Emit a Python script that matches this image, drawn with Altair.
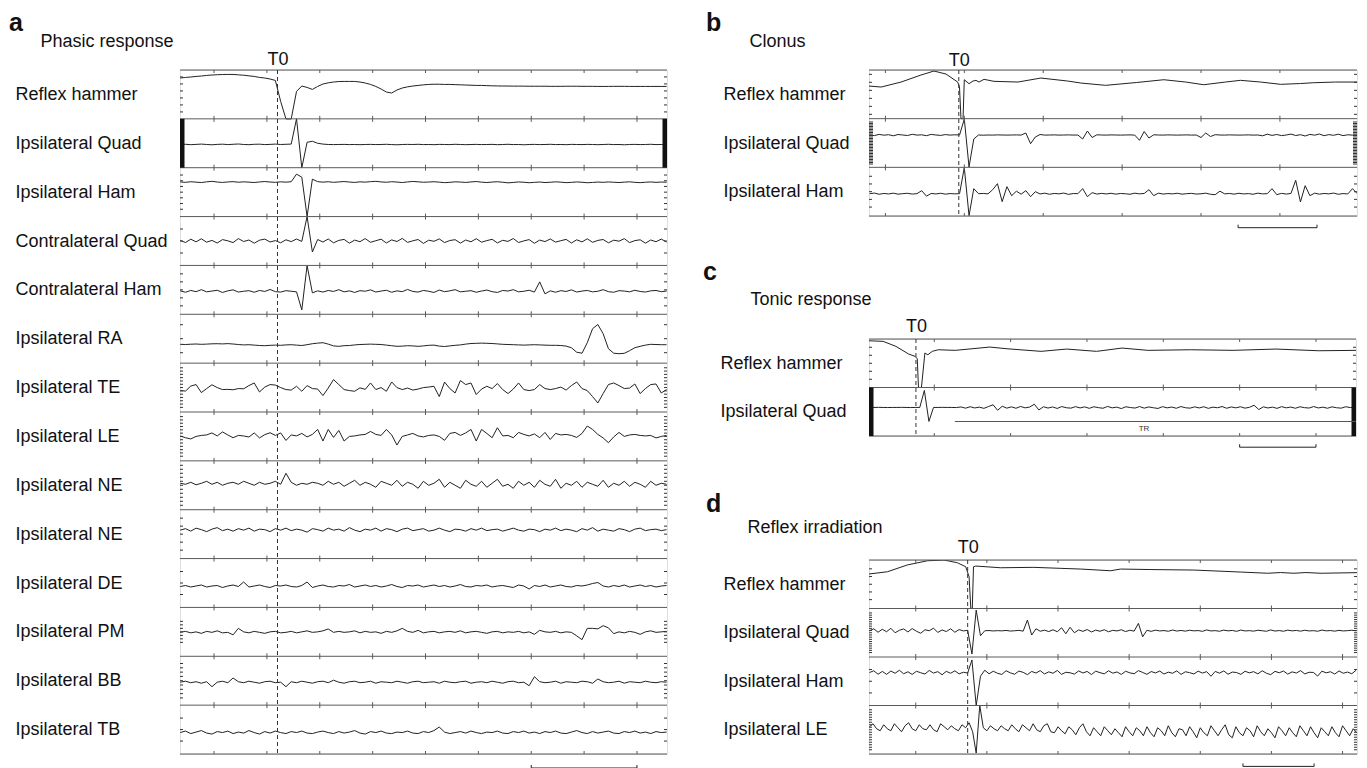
import json
import altair as alt
import pandas as pd

FONT = "Liberation Sans"
INK = "#222222"
FRAME = "#5a5a5a"

# ---------------- Panel a : phasic response ----------------
A_LABELS = ["Reflex hammer", "Ipsilateral Quad", "Ipsilateral Ham", "Contralateral Quad",
            "Contralateral Ham", "Ipsilateral RA", "Ipsilateral TE", "Ipsilateral LE",
            "Ipsilateral NE", "Ipsilateral NE", "Ipsilateral DE", "Ipsilateral PM",
            "Ipsilateral BB", "Ipsilateral TB"]
A_T_START, A_T_STEP = -32, 5          # ms, sample spacing of the traces
A_T0 = 60
A_XTICKS = [0, 50, 100, 150, 200, 250, 300, 350, 400]
A_SCALEBAR = [300, 400]
A_XDOM = [-32.2, 428.4]

A_HAMMER = [16.4, 17.0, 17.4, 18.0, 18.4, 19.0, 19.4, 19.7, 19.9, 20.0,
            20.0, 19.6, 19.2, 18.6, 18.0, 17.0, 16.4, 15.4, 14.0, -7.0,
            -24.5, -24.5, 3.0, 8.4, 7.0, 5.0, 8.0, 10.4, 11.6, 12.4,
            12.9, 13.0, 13.0, 13.0, 12.4, 11.4, 10.0, 8.0, 5.4, 2.4,
            1.4, 4.4, 6.4, 7.6, 8.4, 9.0, 9.6, 10.0, 10.2, 10.2,
            10.0, 10.0, 9.8, 9.6, 9.4, 9.2, 9.0, 9.0, 8.8, 8.6,
            8.5, 8.4, 8.4, 8.3, 8.3, 8.3, 8.2, 8.2, 8.2, 8.2,
            8.1, 8.1, 8.1, 8.2, 8.2, 8.2, 8.1, 8.1, 8.1, 8.0,
            8.0, 8.0, 8.1, 8.1, 8.1, 8.0, 8.0, 8.0, 8.0, 8.0,
            8.0, 8.0, 8.0]
A_IPSI_QUAD = [-1.2, -1.0, -1.4, -1.1, -0.8, -1.2, -1.5, -1.1, -0.9, -1.3,
               -1.0, -0.7, -1.2, -1.4, -1.0, -0.9, -1.3, -1.1, -0.8, -1.2,
               -1.0, -0.8, 24.5, -24.5, 1.0, 2.0, 0.0, -0.8, -1.2, -1.3,
               -1.2, -1.1, -1.3, -1.2, -1.4, -1.2, -1.1, -1.3, -1.2, -1.0,
               -1.3, -1.5, -1.2, -1.1, -1.2, -1.0, -1.3, -1.2, -1.4, -1.1,
               -1.2, -1.3, -1.0, -1.2, -1.4, -1.2, -1.1, -1.3, -1.2, -1.1,
               -1.4, -1.2, -1.0, -1.3, -1.2, -1.5, -1.2, -1.1, -1.3, -1.2,
               -1.0, -1.3, -1.2, -1.4, -1.1, -1.2, -1.3, -1.1, -1.2, -1.4,
               -1.2, -1.0, -1.3, -1.2, -1.5, -1.2, -1.1, -1.3, -1.2, -1.0,
               -1.3, -1.2, -1.2]
A_IPSI_HAM = [10.2, 9.8, 10.4, 10.0, 9.6, 10.3, 10.8, 10.1, 9.7, 10.2,
              10.5, 9.9, 10.3, 10.0, 9.6, 10.2, 10.6, 10.1, 9.8, 10.3,
              10.0, 10.4, 18.0, 15.0, -24.4, 13.0, 10.5, 10.0, 10.4, 9.8,
              10.2, 10.6, 10.1, 9.7, 10.3, 10.0, 10.5, 10.8, 10.2, 9.9,
              10.4, 10.1, 9.6, 10.2, 10.7, 10.3, 9.9, 10.1, 10.4, 10.0,
              9.5, 9.8, 10.3, 10.1, 9.7, 10.2, 10.6, 10.0, 9.6, 10.1,
              10.4, 9.9, 9.3, 9.7, 10.2, 9.9, 9.4, 9.8, 10.1, 9.6,
              9.9, 10.3, 10.0, 9.5, 9.8, 10.2, 9.9, 9.4, 9.7, 10.1,
              9.8, 10.2, 9.9, 9.6, 10.0, 10.3, 9.8, 9.5, 9.9, 10.2,
              9.8, 10.1, 9.9]
A_CONTRA_QUAD = [0.5, -1.5, 1.8, -0.8, 2.2, -1.2, 0.6, -2.0, 1.4, 0.2,
                 -1.6, 2.4, -0.5, 1.0, -2.2, 0.8, 1.9, -1.0, 0.4, -1.8,
                 1.2, -0.6, 2.0, -0.4, 24.4, -11.0, 1.5, -1.0, 2.0, -1.8,
                 0.6, 1.6, -2.2, 0.9, -0.7, 2.4, -1.3, 0.3, 1.8, -2.0,
                 1.1, -0.5, 2.6, -1.4, 0.2, 1.5, -2.4, 0.8, -0.3, 2.1,
                 -1.6, 0.5, 1.3, -2.1, 1.0, -0.8, 2.3, -1.2, 0.4, 1.7,
                 -1.9, 0.7, -0.4, 2.5, -1.5, 0.1, 1.4, -2.3, 0.9, -0.6,
                 2.0, -1.1, 0.3, 1.6, -2.0, 1.2, -0.9, 2.2, -1.3, 0.6,
                 1.5, -1.8, 0.8, -0.2, 2.4, -1.6, 0.4, 1.2, -2.2, 1.0,
                 -0.7, 1.9, -1.0]
A_CONTRA_HAM = [-1.0, -2.4, -0.6, -1.8, 0.2, -2.0, -1.2, -0.4, -2.6, -1.0,
                0.0, -2.2, -1.4, -0.8, -2.4, -0.6, -1.6, 0.4, -1.8, -2.2,
                -0.8, -1.4, -2.0, -20.0, 24.4, -3.0, -1.0, -2.2, -0.6, -1.6,
                0.2, -2.0, -1.0, -2.6, -0.8, -1.4, 0.0, -2.2, -1.2, -0.4,
                -2.4, -1.0, -1.8, 0.4, -1.6, -2.2, -0.6, -1.4, -2.6, -0.2,
                -1.8, -1.0, 0.2, -2.0, -1.4, -0.8, -2.4, -1.2, -0.2, -1.8,
                -2.6, -0.6, -1.2, 0.2, -2.0, -1.4, -0.4, -2.2, 8.0, -4.0,
                -1.0, -2.4, -0.8, -1.6, 0.0, -2.2, -1.2, -0.6, -2.0, -1.4,
                0.2, -1.8, -2.4, -0.8, -1.2, -2.0, -0.4, -1.6, -2.2, -1.0,
                -0.6, -1.8, -1.2]
A_RA = [-5.6, -5.8, -5.5, -5.3, -5.6, -5.4, -5.1, -5.0, -5.2, -4.9,
        -5.3, -5.8, -6.2, -6.0, -6.4, -6.8, -7.0, -6.6, -6.4, -6.6,
        -6.2, -6.0, -6.4, -6.8, -6.0, -5.0, -4.4, -4.0, -5.4, -7.2,
        -7.6, -7.0, -6.8, -6.2, -5.8, -5.6, -5.4, -5.6, -5.8, -6.4,
        -7.0, -7.6, -7.4, -7.0, -7.2, -7.6, -7.2, -6.6, -6.4, -7.4,
        -7.8, -7.2, -6.6, -6.2, -5.4, -4.8, -4.6, -4.4, -4.6, -4.8,
        -5.2, -5.6, -5.8, -6.0, -6.2, -6.4, -6.2, -6.0, -6.2, -6.4,
        -6.6, -6.6, -6.8, -7.4, -9.0, -13.5, -14.5, -4.0, 10.0, 14.2,
        5.0, -10.0, -14.5, -15.0, -14.6, -12.0, -9.0, -7.6, -6.4, -5.6,
        -5.8, -6.0, -6.0]
A_TE = [-3.0, -3.5, 1.5, 3.0, -5.0, -1.0, 2.8, 0.0, -2.0, -1.8,
        -2.2, -1.0, -1.2, 2.0, 4.6, -4.4, 0.5, 3.0, 2.5, 0.0,
        -2.0, -2.5, 1.3, -3.7, 2.0, -1.0, -1.5, -8.0, -0.5, 8.0,
        3.0, -2.0, -3.0, -3.7, -0.3, -1.8, 4.6, -2.0, 0.0, -3.7,
        5.6, 0.0, -2.0, -0.5, -2.5, -1.5, 0.0, 0.5, 1.3, -9.0,
        5.5, -1.0, -5.4, 7.0, 3.0, 4.6, -7.0, -1.5, 1.3, -1.0,
        4.0, -2.0, -6.0, -1.5, 4.6, -2.0, -3.0, -2.0, 3.0, -1.0,
        -2.0, -1.0, 0.5, -2.5, 2.0, 5.6, -1.0, -3.0, -9.0, -15.4,
        -6.0, 3.0, 4.6, 2.0, -1.0, -0.5, 3.6, -6.0, -1.0, 3.0,
        3.6, -5.4, -2.0]
A_LE = [0.4, -1.3, -2.5, 0.0, 1.0, 1.5, 3.5, 0.5, 4.5, 1.5,
        -1.3, 1.0, 0.5, -0.6, 3.5, -1.5, 1.8, 3.7, 1.0, 3.5,
        -4.0, 1.5, 0.5, 3.0, -0.5, 2.0, 7.0, -4.6, 7.0, -1.0,
        6.0, -4.6, 0.0, 0.5, 1.5, 2.0, 5.0, 2.0, 1.0, 7.0,
        1.5, -8.6, 0.0, 1.5, 3.0, 0.5, -0.5, 1.0, 1.5, 0.0,
        -3.9, 3.0, 4.0, 1.0, 3.5, 7.0, -4.6, 7.0, 3.0, -1.3,
        8.7, 0.5, 1.0, -1.3, 4.0, 2.0, 0.5, 2.5, -1.3, 4.0,
        -3.0, 3.0, 1.5, 2.0, 1.0, -1.0, 3.0, 10.4, 7.0, 2.0,
        -1.5, -6.3, -0.5, 4.0, 0.0, 1.5, 2.0, 1.0, 0.5, 1.0,
        -1.5, 0.0, 1.0]
A_NE1 = [2.0, 1.0, 3.0, 0.5, 2.0, 4.0, 1.0, 3.0, 0.0, 2.0,
         3.0, 1.0, 4.0, 2.0, 0.0, 3.0, 1.0, 2.0, 4.0, 1.0,
         12.0, 3.0, 0.0, 2.0, 1.0, 3.0, 2.0, 0.0, 4.0, 1.0,
         3.0, -1.0, 2.0, 5.0, 0.0, 3.0, 1.0, -2.0, 4.0, 2.0,
         0.0, 5.0, -1.0, 3.0, 1.0, -3.0, 4.0, 0.0, 2.0, 6.0,
         -2.0, 3.0, 0.0, -3.0, 5.0, 1.0, -1.0, 4.0, -2.0, 2.0,
         6.0, -1.0, 1.0, -3.0, 4.0, 0.0, 3.0, -2.0, 5.0, 1.0,
         -1.0, 6.0, -3.0, 2.0, 0.0, 4.0, -2.0, 3.0, 1.0, -1.0,
         5.0, -2.0, 2.0, 0.0, 4.0, -1.0, 3.0, 1.0, -2.0, 4.0,
         0.0, 2.0, 1.0]
A_NE2 = [4.0, 5.5, 3.0, 6.0, 4.5, 2.5, 5.0, 6.5, 3.5, 5.0,
         3.0, 5.5, 4.0, 6.0, 3.0, 5.0, 4.5, 2.5, 5.5, 4.0,
         6.0, 3.5, 5.0, 4.0, 2.0, 5.5, 4.5, 3.0, 6.0, 4.0,
         5.0, 3.0, 6.5, 4.0, 2.5, 5.0, 4.0, 6.0, 3.0, 5.5,
         4.5, 2.5, 5.0, 6.0, 3.5, 4.5, 5.5, 3.0, 4.0, 6.0,
         4.0, 2.5, 5.0, 4.5, 3.0, 5.5, 4.0, 6.0, 3.5, 4.5,
         5.0, 3.0, 4.5, 6.0, 4.0, 3.0, 5.0, 4.5, 2.5, 5.0,
         4.0, 6.0, 3.5, 5.0, 4.0, 2.5, 5.5, 4.0, 6.5, 3.0,
         5.0, 4.0, 3.0, 5.5, 4.5, 2.5, 5.0, 6.0, 3.5, 4.5,
         5.0, 3.5, 4.5]
A_DE = [-3.5, -2.5, -4.0, -3.0, -2.0, -4.0, -3.0, -2.5, -4.5, -3.0,
        -2.0, -3.5, 1.0, -4.0, -3.0, -2.0, -3.5, -4.5, -2.5, -3.0,
        -2.0, -3.5, -4.0, -2.5, 1.0, -4.5, -3.0, -2.0, -3.5, -4.0,
        -2.5, -3.0, -1.5, -4.0, -3.0, -2.0, -3.5, -2.5, -4.0, -3.0,
        -1.5, -3.5, -4.5, -2.5, -3.0, -2.0, -4.0, -3.0, -2.0, -3.5,
        -2.5, -4.0, -3.0, -1.5, -3.5, -4.0, -2.5, -3.0, -2.0, -4.0,
        -3.0, -2.5, -3.5, -4.5, -2.0, -3.0, -6.0, -2.5, -3.5, -2.0,
        -4.0, -3.0, -2.0, -3.5, -4.0, -2.5, -3.0, -2.0, -0.5, 0.5,
        -3.0, -4.0, -2.5, -3.5, -2.0, -4.0, -3.0, -2.0, -3.5, -2.5,
        -4.0, -3.0, -2.5]
A_PM = [-0.5, 0.5, -1.0, 0.0, -1.5, 0.5, -0.5, 1.0, -1.0, -0.5,
        -3.0, 3.5, 0.0, -1.0, 0.5, -0.5, -1.5, 0.0, 0.5, -1.0,
        -0.5, 0.5, -1.0, 0.0, 1.0, -0.5, 0.0, 1.0, 2.9, -0.5,
        0.5, -0.5, 0.0, 1.0, -1.0, 0.5, -0.5, 0.0, -1.5, 0.5,
        -0.5, 1.0, 3.5, 0.5, -0.5, 1.5, -1.0, 0.0, 0.5, -1.0,
        0.0, 0.5, -0.5, 1.0, -1.0, 0.0, 0.5, -0.5, -1.5, 0.0,
        0.5, -1.0, 0.0, -0.5, 0.5, -1.0, 0.0, -2.5, 1.5, 0.0,
        -0.5, 0.5, -1.0, 0.0, -0.5, -4.0, -7.8, 3.5, 3.5, 3.0,
        6.2, 4.0, -1.8, 0.0, -1.0, 0.5, -0.5, -2.5, 0.0, 1.0,
        -0.5, 0.0, 0.5]
A_BB = [-1.5, -0.5, -2.0, -1.0, -2.5, -1.0, -6.0, -1.5, -0.5, -2.0,
        2.7, -1.0, -2.0, -0.5, -1.5, -2.5, -1.0, -0.5, -2.0, -1.5,
        -6.0, -1.0, -2.0, -0.5, -1.5, -2.5, -1.0, -0.5, -2.0, 0.5,
        -1.5, -2.5, -1.0, -0.5, -2.0, -1.5, -0.5, -2.5, -1.0, -1.5,
        -2.0, -0.5, -1.5, -2.5, -1.0, -0.5, -2.0, -1.5, -1.0, -2.5,
        -0.5, -1.5, -2.0, -1.0, -0.5, -2.5, -1.5, -1.0, -2.0, -0.5,
        -1.5, -2.5, -1.0, -0.5, -2.0, -1.5, -5.0, 4.0, -1.0, -2.0,
        -1.5, -0.5, -2.5, -1.0, -1.5, -2.0, -0.5, -1.0, -2.5, 1.7,
        -1.0, -2.0, -1.5, -0.5, -2.5, -1.0, -1.5, -2.0, -0.5, -1.5,
        -2.0, -1.0, -1.5]
A_TB = [-3.0, -1.5, -4.0, -2.5, -1.0, -3.5, -4.5, -2.0, -3.0, -1.5,
        -4.0, -2.5, -3.5, -1.0, -3.0, -4.5, -2.0, -3.5, -1.5, -3.0,
        -4.0, -2.0, -3.0, -1.5, -3.5, -4.0, -2.5, -1.5, -3.0, -4.0,
        -2.0, -3.5, -2.5, -1.0, -3.5, -4.5, -2.0, -3.0, -1.5, -3.5,
        -4.0, -2.5, -3.0, -1.5, -3.5, -4.0, -2.0, -3.0, -1.0, 2.5,
        -2.5, -4.0, -3.0, -2.0, -3.5, -1.5, -3.0, -4.0, -2.5, -3.0,
        -1.5, -3.5, -4.0, -2.0, -3.0, -1.5, -3.5, -2.5, -4.0, -2.0,
        -3.0, -1.5, -3.5, -4.0, -2.5, -1.0, -3.0, -4.0, -2.0, -3.5,
        -2.5, -1.5, -3.5, -4.0, -2.0, -3.0, -1.5, -3.5, -2.5, -4.0,
        -2.0, -3.0, -2.5]

# ---------------- Panel b : clonus ----------------
B_LABELS = ["Reflex hammer", "Ipsilateral Quad", "Ipsilateral Ham"]
B_XDOM = [-20.8, 597.7]
B_XTICKS = [0, 100, 200, 300, 400, 500]
B_T0 = 93
B_SCALEBAR = [447, 547]
B_HAMMER_T = [-21, -5.4, 19.9, 45, 61.6, 76.8, 91.6, 93.9, 95.8, 98.4, 100, 106, 111, 114.8,
              118.6, 125, 137.6, 168, 197, 231, 247.7, 279, 318, 352.8, 380.6, 403.4, 431,
              450, 475.6, 500.9, 526, 542.7, 570.5, 597.7]
B_HAMMER_V = [8.3, 7.3, 12.3, 19.3, 23.3, 20.3, 12.3, 7.3, -24.4, -24.4, 14.6, 10.6, 13.3, 14.0,
              12.3, 15.0, 13.0, 12.3, 16.3, 13.3, 11.3, 9.0, 11.8, 14.6, 12.3, 9.6, 12.3,
              14.0, 12.3, 10.0, 10.8, 11.6, 12.3, 12.3]
B_T_START, B_T_STEP = -20, 6
B_QUAD = [8.0, 7.4, 8.6, 7.8, 8.3, 7.2, 8.5, 8.0, 7.5, 8.7,
          7.9, 8.2, 7.3, 8.6, 8.0, 7.6, 8.4, 7.9, 8.2, 8.0,
          24.0, -24.0, 4.0, 8.0, 7.8, 8.0, 7.9, 8.1, 8.0, 7.9,
          8.0, 8.1, 7.9, 10.0, -0.7, 6.0, 8.5, 7.9, 8.0, 8.1,
          7.9, 8.0, 8.1, 7.9, 8.0, 4.0, 12.0, 5.5, 8.2, 8.0,
          7.9, 8.1, 8.0, 7.9, 8.0, 8.1, 7.9, 2.7, 11.5, 5.0,
          8.2, 8.0, 7.9, 8.1, 8.0, 7.9, 8.0, 8.1, 7.9, 8.0,
          5.5, 10.0, 6.5, 8.3, 8.0, 7.9, 8.1, 8.0, 7.9, 8.0,
          8.1, 7.9, 8.0, 7.2, 8.8, 7.6, 8.5, 7.4, 8.0, 8.9,
          7.5, 8.3, 7.0, 8.6, 7.8, 9.0, 7.3, 8.4, 7.7, 8.8,
          7.4, 8.2, 7.9, 8.0]
B_HAM = [-2.0, -1.4, -2.6, -1.8, -2.3, -1.5, -2.5, -2.0, -1.6, -2.4,
         -2.0, 1.0, -4.5, -1.8, -2.3, -1.6, -2.5, -1.9, -2.2, -2.0,
         24.0, -24.0, 3.0, -2.0, -1.8, -2.2, 2.0, 8.0, -10.0, 5.0,
         -4.0, 0.5, -2.5, 1.0, -5.0, 0.0, -2.3, -1.5, -2.6, -1.8,
         -2.2, -1.4, -2.7, -1.9, -2.0, 3.0, -5.0, -1.0, -2.4, -1.7,
         -2.3, -1.6, -2.5, -1.8, -2.1, -2.6, -1.5, -2.2, -1.8, 2.0,
         -4.0, -1.5, -2.4, -1.9, -2.2, -1.6, -2.5, -2.0, -1.7, -2.4,
         -2.1, -1.5, -2.6, -3.0, 0.5, -2.2, -1.8, -2.5, -1.6, -2.3,
         -1.9, -2.6, -1.5, -2.2, -2.0, 3.0, -3.0, -1.7, -2.4, -1.8,
         11.4, -10.3, 6.0, -4.0, -1.5, -2.5, -1.8, -2.2, -1.4, -2.6,
         -1.9, -2.3, 3.0, -2.0]

# ---------------- Panel c : tonic response ----------------
C_LABELS = ["Reflex hammer", "Ipsilateral Quad"]
C_XDOM = [-85.5, 552.4]
C_XTICKS = [0, 100, 200, 300, 400, 500]
C_T0 = -24
C_SCALEBAR = [400, 500]
C_TR = [27, 552.4]
C_HAMMER_T = [-85.5, -67, -50.3, -33.5, -25.1, -22.3, -20.7, -16.8, -12.3, -8.4, -2.6, 5.2,
              27.5, 72.8, 95.2, 140, 173.4, 212.6, 246, 279.7, 335.7, 391.4, 447.6, 503.5, 552.4]
C_HAMMER_V = [22.5, 21.9, 16.9, 9.2, 6.9, 4.5, -24.2, -24.2, 10.2, 8.5, 11.9, 13.5,
              12.9, 16.2, 14.5, 11.9, 14.2, 11.9, 15.2, 12.9, 13.5, 12.9, 14.2, 12.5, 12.9]
C_T_START, C_T_STEP = -85, 6
C_QUAD = [4.3, 4.3, 4.4, 4.3, 4.2, 4.3, 4.3, 4.4, 4.3, 4.2,
          4.3, 4.3, 21.3, -9.7, 4.3, 4.3, 4.4, 4.3, 4.3, 4.2,
          4.8, 3.6, 5.0, 3.8, 4.6, 3.4, 5.2, 7.0, 1.5, 5.5,
          3.6, 4.9, 3.5, 5.3, 3.9, 4.7, 7.5, 1.8, 5.0, 3.7,
          4.8, 3.3, 5.2, 4.0, 3.6, 5.1, 3.8, 4.9, 3.4, 5.0,
          4.1, 3.5, 5.3, 3.9, 4.6, 3.2, 5.0, 4.2, 3.7, 5.2,
          3.6, 4.8, 4.0, 3.3, 5.1, 3.9, 4.7, 3.5, 5.2, 4.0,
          3.6, 4.9, 3.8, 5.0, 3.4, 4.6, 4.0, 5.2, 3.5, 4.8,
          3.9, 5.0, 3.6, 4.5, 6.5, 2.2, 4.9, 3.8, 4.6, 3.4,
          5.1, 3.9, 4.7, 3.5, 5.0, 4.1, 3.7, 5.2, 3.8, 4.6,
          3.5, 4.9, 4.0, 3.6, 5.0, 4.2, 4.3]

# ---------------- Panel d : reflex irradiation ----------------
D_LABELS = ["Reflex hammer", "Ipsilateral Quad", "Ipsilateral Ham", "Ipsilateral LE"]
D_XDOM = [-65.7, 620.3]
D_XTICKS = [0, 100, 200, 300, 400, 500, 600]
D_T0 = 73
D_SCALEBAR = [460, 560]
D_HAMMER_T = [-65.7, -39.8, -11.7, 16.5, 39.8, 58.6, 70.3, 75.0, 77.4, 79.5, 81.2, 84.4, 119.5,
              166, 204, 232, 274, 288, 330.5, 391, 457, 494.7, 513, 531.6, 548.5, 569.6, 620.3]
D_HAMMER_V = [10.25, 12.5, 19.3, 23.5, 24.2, 21.5, 17.5, 7.5, -24.2, -24.2, 17.5, 18.2, 16.5,
              16.9, 15.9, 15.2, 13.5, 15.2, 14.7, 14.2, 12.2, 11.0, 11.7, 11.0, 11.7, 11.0, 11.6]
D_T_START = -65
D_STEP_EMG, D_STEP_LE = 6, 5
D_QUAD = [2.0, 4.0, 0.5, 3.5, 1.0, 4.5, 0.0, 2.5, 3.8, 0.8,
          4.2, 1.5, -0.5, 3.0, 2.0, 4.6, 0.3, 2.8, 1.2, 4.0,
          0.5, 3.2, 1.8, 2.5, -21.3, 22.7, -3.0, 2.0, 2.2, 1.8,
          2.1, 1.9, 2.3, 1.7, 2.0, 2.4, 1.6, 12.7, -2.3, 4.0,
          1.5, 2.6, 1.2, 3.0, 1.0, 5.0, -1.0, 5.5, 0.0, 2.8,
          1.4, 3.2, 0.8, 2.6, 1.5, 3.0, 1.0, 2.4, 1.8, 3.0,
          1.2, 2.5, 1.6, 9.4, -4.0, 2.5, 1.4, 2.6, 1.8, 2.2,
          1.5, 2.7, 1.7, 2.3, 1.6, 2.5, 1.9, 2.2, 1.4, 2.8,
          1.8, 2.1, 1.5, 2.6, 1.9, 2.3, 1.4, 2.7, 1.8, 2.1,
          1.6, 2.5, 2.0, 1.5, 2.8, 1.7, 2.2, 1.5, 2.6, 1.9,
          2.3, 1.6, 2.5, 1.8, 2.1, 1.5, 2.7, 1.9, 2.2, 1.6,
          2.4, 1.8, 2.1, 2.5, 2.0]
D_HAM = [8.7, 10.5, 7.0, 9.8, 6.9, 10.2, 8.0, 11.0, 7.5, 9.5,
         6.8, 10.0, 8.5, 7.2, 10.8, 8.2, 9.6, 6.5, 9.9, 8.0,
         10.4, 7.4, 9.0, 8.2, 21.3, -24.4, 5.0, 11.0, 7.5, 10.0,
         8.0, 6.8, 10.5, 8.4, 7.0, 10.2, 8.9, 6.6, 9.8, 8.2,
         10.6, 7.3, 9.4, 8.0, 10.8, 6.9, 9.0, 8.5, 7.1, 10.3,
         8.3, 9.8, 6.7, 10.1, 8.6, 7.4, 10.5, 8.1, 9.3, 6.8,
         10.0, 8.4, 7.5, 10.6, 8.8, 6.9, 9.7, 8.3, 10.2, 7.2,
         9.1, 8.0, 10.4, 6.8, 9.5, 8.6, 7.3, 10.1, 8.2, 9.6,
         5.0, 9.8, 8.1, 10.3, 7.0, 9.2, 8.7, 6.9, 10.0, 8.4,
         9.6, 7.4, 10.5, 8.0, 6.6, 9.9, 8.5, 10.2, 7.1, 9.4,
         8.2, 10.6, 7.3, 9.0, 8.8, 5.2, 10.1, 8.4, 9.5, 7.2,
         10.3, 8.0, 9.2, 7.5, 11.0]
D_LE = [3, 6, 1, -1, 5, 1, -1, 6, 2, -2,
        4, 7, 1, -1, 5, 1, 0, 5, 0, -2,
        6, 3, 0, 4, 1, -1, 5, 2, 7, -2,
        -23.3, 24.3, 2, -1, 4, 1, -1, 4, 1, -1,
        5, 1, -2, 5, 2, -1, 6, 0, -2, 4,
        6, -2, -3, 3, -1, -4, 3, 0, -5, 2,
        6, -2, -6, 2, -2, -6, 3, -1, -5, 1,
        -3, -7, 3, -2, -6, 2, -1, -6, 3, -3,
        -7, 2, -1, -6, 4, -3, -7, 1, 0, -6,
        3, -2, -8, 2, -3, -6, 4, -1, -6, 0,
        5, -5, -8, 3, -3, -6, 2, -1, -7, 4,
        -2, -6, 1, -3, -8, 3, -1, -6, 2, -3,
        -7, 4, -1, -6, 3, -3, -8, 2, -2, -6,
        3, -3, -7, 4, -1, -6, 1, -3]

# edge-tick styles per row: (step px, half extent px, length px, phase) or "bar"
A_EDGE = [(7, 20, 3, 0.5), "bar", (5.7, 21, 3, 0), (12, 20, 3, 0), (8, 20, 3, 0),
          (14, 20, 3, 0), (3.3, 22, 3, 0), (3.3, 22, 3, 0), (4, 20, 3, 0), (8, 20, 3, 0),
          (11.5, 20, 3, 0), (3.5, 12, 3, 0), (4.3, 20, 3, 0), (11.5, 20, 3, 0)]
B_EDGE = [(8, 20, 3, 0.5), (1.5, 22, 4, 0), (7.7, 20, 3, 0)]
C_EDGE = [(8, 20, 3, 0), "bar"]
D_EDGE = [(7.7, 20, 3, 0), (2.2, 21, 3, 0), (11.7, 20, 3, 0), (2.5, 22, 3, 0)]


def grid(start, step, n):
    return [start + step * k for k in range(n)]


def panel(labels, series, xdom, xticks, t0, bar, edges, width, height, letter, letter_dx,
          letter_offset, subtitle, sub_x, sub_y, t0_pad, label_pad, bar_gap, tr=None):
    n = len(labels)
    row_px = height / n
    ppu = width / (xdom[1] - xdom[0])
    recs = []
    for i, (ts, vs) in enumerate(series):
        for t, v in zip(ts, vs):
            recs.append({"t": t, "y": i + 0.5 - v / row_px, "row": i})
    xs = alt.Scale(domain=list(xdom), nice=False, zero=False)
    ys = alt.Scale(domain=[0, n], reverse=True, nice=False, zero=False)
    top_axis = alt.Axis(orient="top", values=[t0], labelExpr="'T0'", ticks=False, tickSize=0,
                        domain=False, grid=False, labelFont=FONT, labelFontSize=18,
                        labelColor="#111", labelPadding=t0_pad, labelBaseline="alphabetic",
                        labelFlush=False, title=subtitle, titleFont=FONT, titleFontSize=18,
                        titleFontWeight="normal", titleColor="#111", titleAlign="left",
                        titleBaseline="alphabetic", titleX=sub_x, titleY=sub_y)
    left_axis = alt.Axis(orient="left", values=[i + 0.5 for i in range(n)],
                         labelExpr=json.dumps(labels) + "[floor(datum.value)]",
                         ticks=False, tickSize=0, domain=False, grid=False,
                         labelFont=FONT, labelFontSize=18, labelColor="#111",
                         labelAlign="left", labelBaseline="middle", labelPadding=label_pad,
                         labelLimit=400, labelOverlap=False, title=None)

    def X(f):
        return alt.X(f, scale=xs, axis=top_axis)

    def Y(f):
        return alt.Y(f, scale=ys, axis=left_axis)

    traces = alt.Chart(pd.DataFrame(recs)).mark_line(
        color=INK, strokeWidth=1, clip=True).encode(x=X("t:Q"), y=Y("y:Q"), detail="row:N")

    borders = pd.DataFrame({"y": list(range(n + 1)), "x1": xdom[0], "x2": xdom[1]})
    rule_rows = alt.Chart(borders).mark_rule(color=FRAME, strokeWidth=1).encode(
        x=X("x1:Q"), x2="x2:Q", y=Y("y:Q"))

    d = 3.0 / row_px
    tk = [{"x": x, "y1": max(0, b - d), "y2": min(n, b + d)}
          for b in range(n + 1) for x in xticks]
    rule_ticks = alt.Chart(pd.DataFrame(tk)).mark_rule(color=FRAME, strokeWidth=1).encode(
        x=X("x:Q"), y=Y("y1:Q"), y2="y2:Q")

    et, bars = [], []
    for i, spec in enumerate(edges):
        if spec == "bar":
            w = 4.5 / ppu
            bars.append({"x1": xdom[0], "x2": xdom[0] + w, "y1": i, "y2": i + 1})
            bars.append({"x1": xdom[1] - w, "x2": xdom[1], "y1": i, "y2": i + 1})
            continue
        step, ext, length, phase = spec
        L = length / ppu
        for j in range(-40, 41):
            v = (j + phase) * step
            if abs(v) <= ext and abs(v) < row_px / 2 - 1.0:
                yy = i + 0.5 - v / row_px
                et.append({"x1": xdom[0], "x2": xdom[0] + L, "y": yy})
                et.append({"x1": xdom[1] - L, "x2": xdom[1], "y": yy})
    layers = [traces, rule_rows, rule_ticks]
    if et:
        layers.append(alt.Chart(pd.DataFrame(et)).mark_rule(color="#333", strokeWidth=1).encode(
            x=X("x1:Q"), x2="x2:Q", y=Y("y:Q")))
    if bars:
        layers.append(alt.Chart(pd.DataFrame(bars)).mark_rect(color="#111").encode(
            x=X("x1:Q"), x2="x2:Q", y=Y("y1:Q"), y2="y2:Q"))
    layers.append(alt.Chart(pd.DataFrame({"t": [t0], "y1": [0], "y2": [n]})).mark_rule(
        color="#333", strokeWidth=1, strokeDash=[4, 3]).encode(
        x=X("t:Q"), y=Y("y1:Q"), y2="y2:Q"))
    yb = n + bar_gap / row_px
    cap = 3.0 / row_px
    layers.append(alt.Chart(pd.DataFrame({"x1": [bar[0]], "x2": [bar[1]], "y": [yb]})).mark_rule(
        color="#222", strokeWidth=1, clip=False).encode(x=X("x1:Q"), x2="x2:Q", y=Y("y:Q")))
    layers.append(alt.Chart(pd.DataFrame({"x": bar, "y1": [yb - cap] * 2, "y2": [yb] * 2})).mark_rule(
        color="#222", strokeWidth=1, clip=False).encode(x=X("x:Q"), y=Y("y1:Q"), y2="y2:Q"))
    if tr is not None:
        ytr = 1 + 34.0 / row_px
        layers.append(alt.Chart(pd.DataFrame({"x1": [tr[0]], "x2": [tr[1]], "y": [ytr]})).mark_rule(
            color="#555", strokeWidth=1).encode(x=X("x1:Q"), x2="x2:Q", y=Y("y:Q")))
        layers.append(alt.Chart(pd.DataFrame({"x": [(tr[0] + tr[1]) / 2 - 15], "y": [ytr], "s": ["TR"]})).mark_text(
            font=FONT, fontSize=8, color="#333", baseline="top", dy=3).encode(
            x=X("x:Q"), y=Y("y:Q"), text="s:N"))
    return alt.layer(*layers).properties(
        width=width, height=height,
        title=alt.TitleParams(text=letter, anchor="start", frame="bounds", fontSize=25,
                              fontWeight="bold", font=FONT, color="#111", dx=letter_dx,
                              offset=letter_offset, baseline="top"))


A_SERIES = [A_HAMMER, A_IPSI_QUAD, A_IPSI_HAM, A_CONTRA_QUAD, A_CONTRA_HAM, A_RA, A_TE, A_LE,
            A_NE1, A_NE2, A_DE, A_PM, A_BB, A_TB]
a_series = [(grid(A_T_START, A_T_STEP, len(s)), s) for s in A_SERIES]
b_series = [(B_HAMMER_T, B_HAMMER_V),
            (grid(B_T_START, B_T_STEP, len(B_QUAD)), B_QUAD),
            (grid(B_T_START, B_T_STEP, len(B_HAM)), B_HAM)]
c_series = [(C_HAMMER_T, C_HAMMER_V), (grid(C_T_START, C_T_STEP, len(C_QUAD)), C_QUAD)]
d_series = [(D_HAMMER_T, D_HAMMER_V),
            (grid(D_T_START, D_STEP_EMG, len(D_QUAD)), D_QUAD),
            (grid(D_T_START, D_STEP_EMG, len(D_HAM)), D_HAM),
            (grid(D_T_START, D_STEP_LE, len(D_LE)), D_LE)]

pa = panel(A_LABELS, a_series, A_XDOM, A_XTICKS, A_T0, A_SCALEBAR, A_EDGE, 487, 684,
           "a", -6, -4, "Phasic response", -140, -24, 6, 165, 14)
pb = panel(B_LABELS, b_series, B_XDOM, B_XTICKS, B_T0, B_SCALEBAR, B_EDGE, 488, 146,
           "b", -17, -4, "Clonus", -120, -24, 5, 146, 11.7)
pc = panel(C_LABELS, c_series, C_XDOM, C_XTICKS, C_T0, C_SCALEBAR, C_EDGE, 487, 97,
           "c", -17, 5, "Tonic response", -119, -35, 7.7, 149, 11.2, tr=C_TR)
pd_ = panel(D_LABELS, d_series, D_XDOM, D_XTICKS, D_T0, D_SCALEBAR, D_EDGE, 488, 194,
            "d", -17, 1, "Reflex irradiation", -122, -28, 8, 146, 12.4)

right = alt.vconcat(pb, alt.vconcat(pc, pd_, spacing=42), spacing=30)
chart = alt.hconcat(pa, right, spacing=34).properties(
    padding={"left": 0, "top": 2, "right": 0, "bottom": 0}
).configure_view(stroke=FRAME, strokeWidth=1).configure(background="white")

chart.save("out.html", embed_options={"renderer": "svg", "actions": False})
